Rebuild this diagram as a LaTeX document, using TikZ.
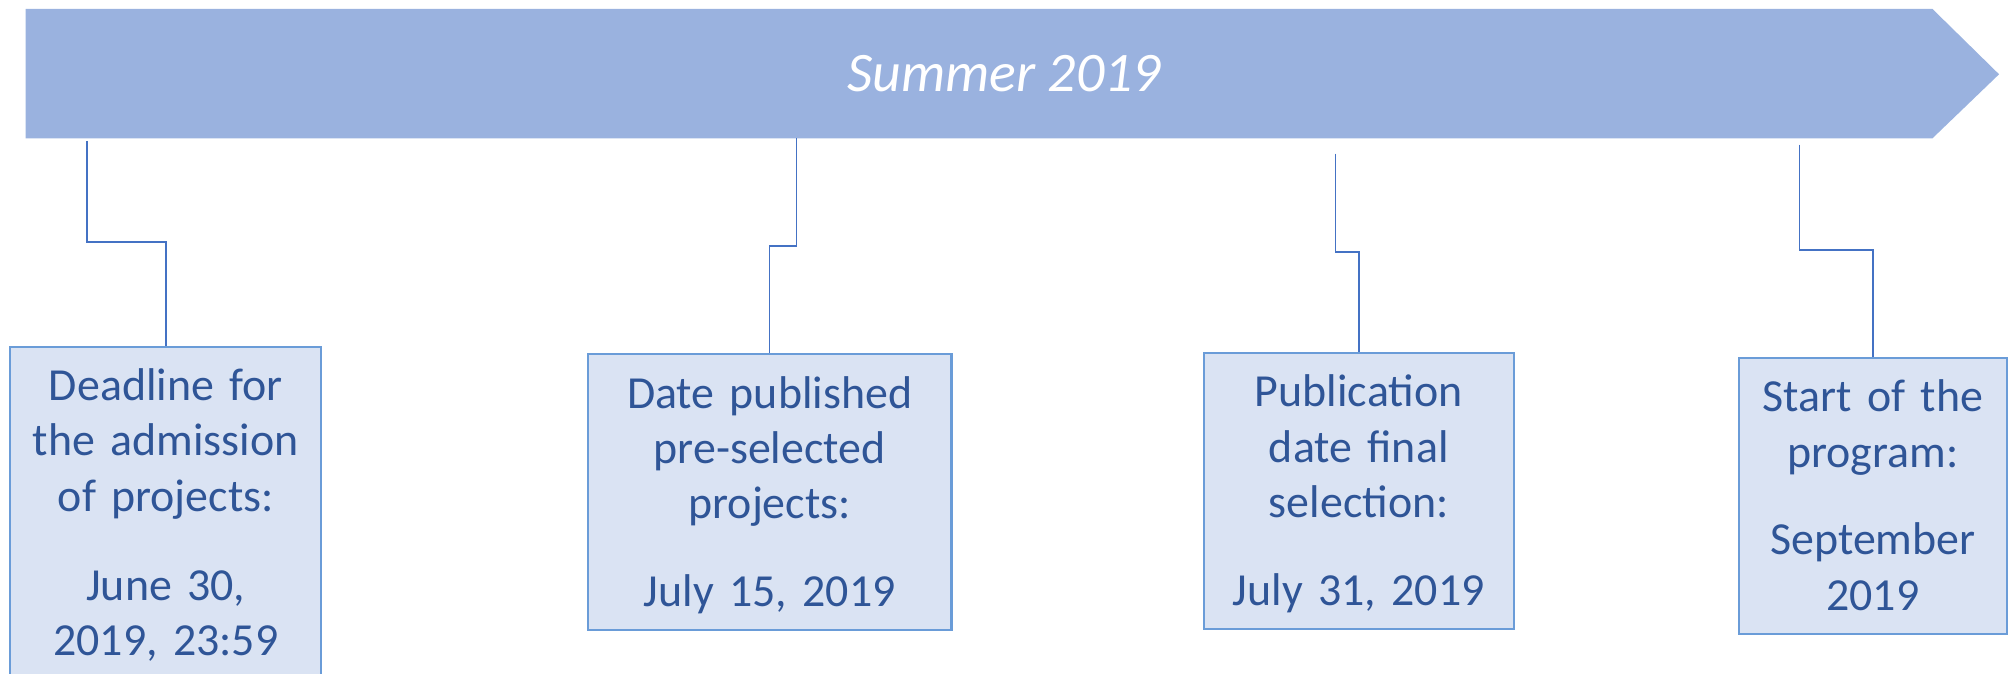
\documentclass[tikz,border=0pt]{standalone}
\usepackage{fontspec}
\setmainfont{Carlito}
\usepackage{tikz}

\definecolor{barfill}{HTML}{9AB2DF}
\definecolor{boxfill}{HTML}{DAE3F3}
\definecolor{boxline}{HTML}{6A9CD8}
\definecolor{linkline}{HTML}{4472C4}
\definecolor{datetext}{HTML}{2F5597}

\tikzset{
	datebox/.style={draw=boxline, line width=0.45pt, fill=boxfill, text=datetext, anchor=north,
		align=center, inner xsep=0pt, inner ysep=1.7pt, text height=10.2pt,
		font=\fontsize{10.2pt}{12.3pt}\selectfont,
		execute at end node={\vrule width 0pt height 0pt depth 3.6pt}},
	link/.style={draw=linkline, line width=0.35pt}
}

\begin{document}
\begin{tikzpicture}
\useasboundingbox (0,0) rectangle (15.68,-5.26);
% timeline bar
\fill[barfill] (0.20,-0.07) -- (15.09,-0.07) -- (15.61,-0.58) -- (15.09,-1.08) -- (0.20,-1.08) -- cycle;
\node[text=white, font=\fontsize{12.4pt}{14pt}\selectfont\itshape] (season) at (7.84,-0.575) {Summer 2019};

% milestones
\node[datebox, text width=2.43cm, text depth=80pt] (box1) at (1.295,-2.70) {Deadline for\\the admission\\of projects:\\[7.6pt]June 30,\\2019, 23:59};
\node[datebox, text width=2.84cm] (box2) at (6.01,-2.76) {Date published\\pre-selected\\projects:\\[7.2pt]July 15, 2019};
\node[datebox, text width=2.42cm] (box3) at (10.61,-2.75) {Publication\\date final\\selection:\\[7.2pt]July 31, 2019};
\node[datebox, text width=2.09cm] (box4) at (14.625,-2.79) {Start of the\\program:\\[7.2pt]September\\2019};

% elbow links from the bar down to the boxes
\coordinate (t1) at (0.68,-1.10);  \coordinate (e1) at (0.68,-1.89);
\coordinate (t2) at (6.22,-1.08);  \coordinate (e2) at (6.22,-1.92);
\coordinate (t3) at (10.43,-1.20); \coordinate (e3) at (10.43,-1.97);
\coordinate (t4) at (14.05,-1.13); \coordinate (e4) at (14.05,-1.95);
\foreach \n in {1,...,4} {
	\draw[link] (t\n) -- (e\n) -| (box\n.north);
}
\end{tikzpicture}
\end{document}
